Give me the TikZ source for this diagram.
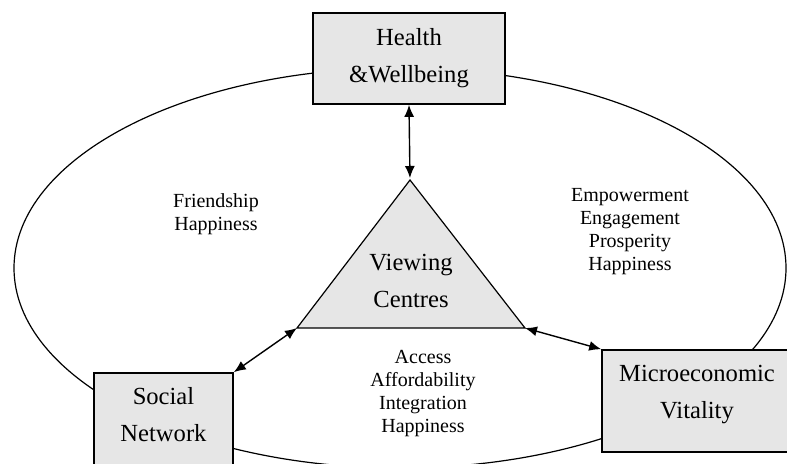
\documentclass[tikz,border=0pt]{standalone}
\usepackage{fontspec}
\setmainfont{Liberation Serif}
\usetikzlibrary{arrows.meta}

\definecolor{boxgray}{RGB}{230,230,230}

\tikzset{
  box/.style={draw, line width=0.8pt, fill=boxgray, inner sep=0pt},
  boxlabel/.style={align=center, inner sep=0pt, font=\fontsize{12.3}{18.5}\selectfont},
  note/.style={align=center, inner sep=0pt, font=\fontsize{10}{11.5}\selectfont},
  link/.style={line width=0.7pt, {Latex[length=6pt,width=5pt]}-{Latex[length=6pt,width=5pt]}}
}

\begin{document}
\begin{tikzpicture}[x=0.5pt, y=-0.5pt]
\useasboundingbox (0,0) rectangle (787,463);

% the ring round everything
\draw[line width=0.6pt] (400,268) ellipse [x radius=193pt, y radius=100pt];

% the three outer boxes
\node[box, boxlabel, minimum width=96pt, minimum height=45.5pt] (health) at (409,58.5) {Health\\\&Wellbeing};

\node[box, minimum width=94pt, minimum height=51pt] (micro) at (696,401) {};
\node[boxlabel] (microlabel) at (697,394) {Microeconomic\\Vitality};

\node[box, minimum width=69.5pt, minimum height=50pt] (social) at (163.5,423) {};
\node[boxlabel] (sociallabel) at (163.5,414.5) {Social\\Network};

% triangle in the middle
\coordinate (apex) at (410,180);
\coordinate (baseL) at (297,328);
\coordinate (baseR) at (525,328);
\draw[line width=0.6pt, fill=boxgray] (apex) -- (baseL) -- (baseR) -- cycle;
\node[boxlabel] (centres) at (411,281) {Viewing\\Centres};

% two-way links
\draw[link, shorten >=1pt] (health.south) -- (apex);
\draw[link] (baseL) -- (social.north east);
\draw[link] (baseR) -- (micro.north west);

% words inside the ring
\node[note] (friend) at (216,214) {Friendship\\Happiness};
\node[note] (empower) at (630,232) {Empowerment\\Engagement\\Prosperity\\Happiness};
\node[note] (access) at (423,394) {Access\\Affordability\\Integration\\Happiness};

\end{tikzpicture}
\end{document}
